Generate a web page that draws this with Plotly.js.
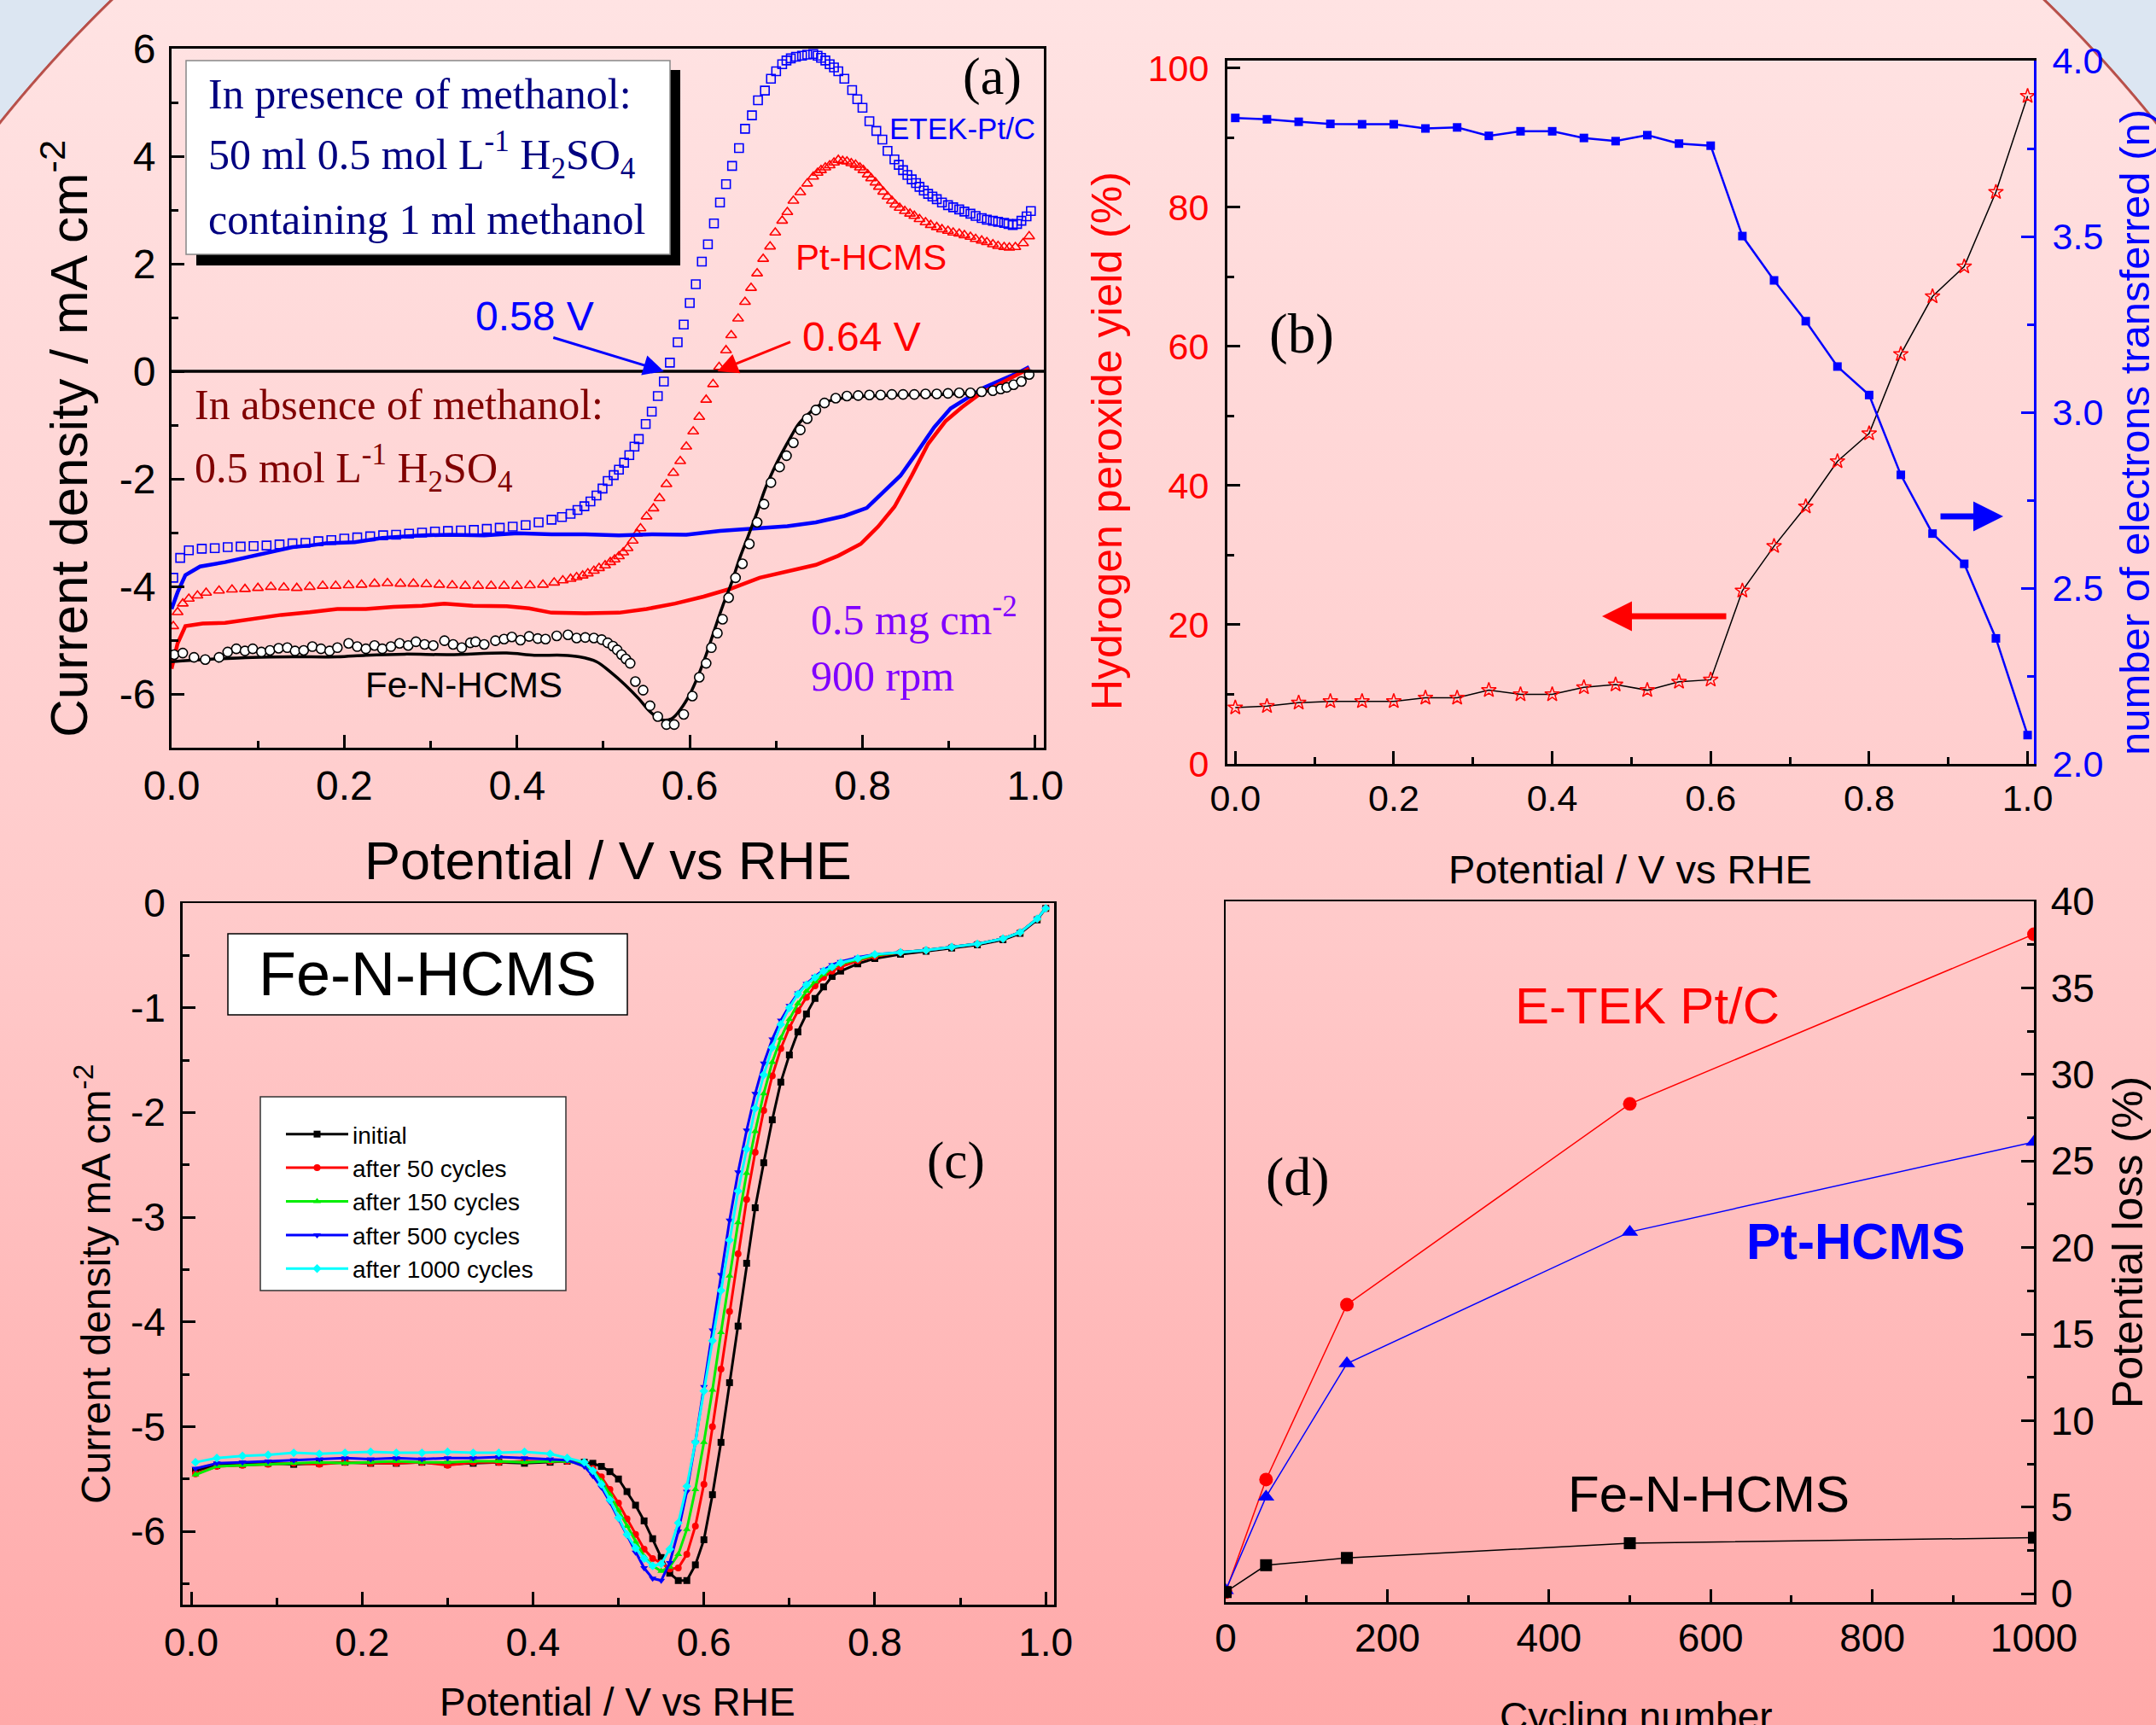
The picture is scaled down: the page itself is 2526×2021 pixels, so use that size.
<!DOCTYPE html>
<html>
<head>
<meta charset="utf-8">
<script src="https://cdn.plot.ly/plotly-3.0.1.min.js"></script>
<style>
html,body{margin:0;padding:0;}
body{width:2526px;height:2021px;overflow:hidden;
background:
 radial-gradient(ellipse 1609px 1576px at 1263px 1117px, rgba(0,0,0,0) 99.75%, #b8504a 99.82%, #b8504a 99.95%, #dce6f2 100%),
 linear-gradient(to bottom, #ffe3e3 0%, #ffc9c9 55%, #ffa9a9 100%);}
#chart{width:2526px;height:2021px;}
</style>
</head>
<body>
<div id="chart"></div>
<script>
// ---------------- Panel (a) data ----------------
const aV_etekM = [0.002,0.01,0.02,0.035,0.05,0.065,0.08,0.095,0.11,0.125,0.14,0.155,0.17,0.185,0.2,0.215,0.23,0.245,0.26,0.275,0.29,0.305,0.32,0.335,0.35,0.365,0.38,0.395,0.41,0.425,0.44,0.452,0.462,0.47,0.478,0.485,0.492,0.499,0.505,0.512,0.518,0.524,0.53,0.536,0.541,0.549,0.556,0.563,0.57,0.577,0.586,0.593,0.6,0.607,0.614,0.621,0.628,0.635,0.642,0.649,0.657,0.664,0.672,0.679,0.687,0.694,0.7,0.707,0.712,0.717,0.723,0.73,0.736,0.743,0.748,0.752,0.757,0.762,0.767,0.772,0.779,0.788,0.794,0.8,0.808,0.816,0.823,0.829,0.837,0.842,0.847,0.852,0.857,0.862,0.866,0.871,0.876,0.881,0.886,0.892,0.899,0.905,0.912,0.918,0.925,0.931,0.938,0.944,0.951,0.957,0.964,0.969,0.974,0.979,0.984,0.99,0.995];
const aJ_etekM = [-3.84,-3.47,-3.33,-3.30,-3.29,-3.27,-3.26,-3.25,-3.24,-3.22,-3.20,-3.19,-3.16,-3.14,-3.11,-3.09,-3.07,-3.05,-3.04,-3.02,-3.00,-2.98,-2.97,-2.96,-2.95,-2.93,-2.91,-2.89,-2.86,-2.81,-2.76,-2.71,-2.65,-2.58,-2.51,-2.42,-2.31,-2.18,-2.04,-1.93,-1.83,-1.70,-1.56,-1.40,-1.26,-0.98,-0.75,-0.46,-0.19,0.16,0.54,0.87,1.27,1.62,2.04,2.36,2.75,3.14,3.48,3.82,4.15,4.51,4.76,5.04,5.22,5.44,5.58,5.71,5.78,5.82,5.85,5.87,5.89,5.90,5.87,5.83,5.78,5.71,5.65,5.58,5.44,5.23,5.06,4.90,4.65,4.47,4.31,4.10,3.94,3.84,3.74,3.65,3.57,3.50,3.43,3.36,3.30,3.25,3.20,3.14,3.09,3.05,3.01,2.97,2.93,2.89,2.85,2.82,2.80,2.78,2.76,2.74,2.72,2.74,2.80,2.88,2.98];

const aV_ptM = [0.002,0.007,0.013,0.02,0.03,0.04,0.055,0.07,0.085,0.1,0.115,0.13,0.145,0.16,0.175,0.19,0.205,0.22,0.235,0.25,0.265,0.28,0.295,0.31,0.325,0.34,0.355,0.37,0.385,0.4,0.415,0.43,0.443,0.453,0.462,0.469,0.476,0.482,0.489,0.495,0.502,0.508,0.513,0.518,0.523,0.528,0.534,0.539,0.543,0.55,0.558,0.565,0.573,0.581,0.589,0.596,0.604,0.611,0.619,0.627,0.634,0.642,0.648,0.656,0.664,0.671,0.678,0.685,0.693,0.699,0.707,0.713,0.72,0.728,0.736,0.743,0.748,0.752,0.757,0.762,0.767,0.772,0.777,0.782,0.787,0.792,0.797,0.801,0.806,0.81,0.815,0.819,0.824,0.829,0.834,0.838,0.843,0.849,0.855,0.86,0.866,0.873,0.879,0.886,0.892,0.899,0.905,0.912,0.918,0.925,0.931,0.938,0.944,0.951,0.957,0.964,0.97,0.977,0.986,0.993];
const aJ_ptM = [-4.74,-4.48,-4.32,-4.23,-4.17,-4.12,-4.08,-4.06,-4.05,-4.03,-4.01,-4.02,-4.03,-4.01,-3.99,-3.99,-3.98,-3.97,-3.95,-3.94,-3.95,-3.95,-3.96,-3.97,-3.98,-3.99,-3.99,-3.99,-3.99,-3.99,-3.98,-3.97,-3.93,-3.89,-3.86,-3.83,-3.80,-3.76,-3.71,-3.66,-3.61,-3.55,-3.50,-3.44,-3.37,-3.29,-3.15,-3.02,-2.92,-2.70,-2.55,-2.36,-2.10,-1.89,-1.67,-1.40,-1.12,-0.85,-0.53,-0.24,0.08,0.39,0.67,0.98,1.29,1.55,1.82,2.09,2.32,2.58,2.80,2.96,3.17,3.33,3.49,3.62,3.69,3.74,3.79,3.83,3.88,3.93,3.91,3.90,3.87,3.84,3.79,3.74,3.66,3.59,3.51,3.43,3.34,3.25,3.17,3.10,3.04,2.98,2.93,2.89,2.83,2.77,2.72,2.68,2.64,2.61,2.58,2.56,2.53,2.50,2.46,2.43,2.40,2.36,2.33,2.31,2.30,2.31,2.38,2.51];

const aV_feM = [0.003,0.013,0.026,0.039,0.055,0.065,0.075,0.085,0.094,0.104,0.114,0.124,0.134,0.143,0.153,0.163,0.173,0.183,0.192,0.205,0.215,0.225,0.235,0.244,0.254,0.264,0.274,0.283,0.293,0.303,0.316,0.326,0.336,0.346,0.352,0.362,0.375,0.385,0.394,0.404,0.414,0.424,0.433,0.446,0.459,0.469,0.479,0.489,0.498,0.505,0.511,0.516,0.521,0.526,0.531,0.537,0.546,0.554,0.563,0.573,0.582,0.593,0.603,0.611,0.619,0.625,0.632,0.638,0.645,0.653,0.661,0.669,0.678,0.686,0.694,0.704,0.712,0.72,0.728,0.736,0.746,0.756,0.769,0.782,0.795,0.808,0.821,0.834,0.847,0.86,0.873,0.886,0.899,0.912,0.925,0.938,0.951,0.96,0.967,0.975,0.984,0.993];
const aJ_feM = [-5.27,-5.24,-5.32,-5.36,-5.32,-5.22,-5.16,-5.20,-5.16,-5.22,-5.19,-5.15,-5.14,-5.20,-5.19,-5.12,-5.16,-5.20,-5.14,-5.06,-5.12,-5.16,-5.10,-5.16,-5.12,-5.06,-5.10,-5.03,-5.08,-5.10,-5.01,-5.08,-5.14,-5.05,-5.03,-5.08,-5.01,-4.98,-4.94,-5.00,-4.93,-4.97,-4.98,-4.92,-4.90,-4.96,-4.95,-4.96,-4.99,-5.05,-5.11,-5.18,-5.27,-5.35,-5.43,-5.77,-5.93,-6.22,-6.42,-6.57,-6.57,-6.38,-6.04,-5.69,-5.43,-5.14,-4.87,-4.61,-4.21,-3.84,-3.58,-3.21,-2.81,-2.47,-2.07,-1.78,-1.57,-1.33,-1.09,-0.88,-0.72,-0.59,-0.50,-0.46,-0.45,-0.44,-0.44,-0.43,-0.43,-0.43,-0.42,-0.42,-0.41,-0.40,-0.40,-0.38,-0.36,-0.33,-0.30,-0.25,-0.19,-0.06];

const aV_etek = [0,0.007,0.016,0.033,0.062,0.094,0.114,0.14,0.16,0.179,0.212,0.244,0.27,0.29,0.322,0.362,0.401,0.44,0.479,0.518,0.557,0.596,0.635,0.674,0.713,0.746,0.779,0.805,0.824,0.844,0.863,0.883,0.902,0.922,0.941,0.961,0.98,0.993];
const aJ_etek = [-4.42,-4.11,-3.79,-3.63,-3.55,-3.44,-3.37,-3.27,-3.24,-3.20,-3.18,-3.10,-3.07,-3.05,-3.04,-3.05,-3.01,-3.03,-3.03,-3.05,-3.03,-3.04,-2.97,-2.92,-2.88,-2.81,-2.69,-2.54,-2.25,-1.94,-1.51,-1.04,-0.69,-0.48,-0.30,-0.16,-0.03,0.08];

const aV_pt = [0,0.007,0.016,0.036,0.062,0.094,0.127,0.16,0.192,0.225,0.257,0.29,0.316,0.349,0.388,0.414,0.44,0.479,0.518,0.55,0.583,0.616,0.648,0.681,0.713,0.746,0.772,0.798,0.818,0.837,0.857,0.876,0.896,0.915,0.935,0.954,0.974,0.993];
const aJ_pt = [-5.53,-5.06,-4.74,-4.69,-4.68,-4.61,-4.53,-4.48,-4.42,-4.42,-4.38,-4.36,-4.32,-4.36,-4.37,-4.41,-4.49,-4.50,-4.49,-4.42,-4.32,-4.19,-4.04,-3.84,-3.72,-3.60,-3.43,-3.21,-2.89,-2.52,-1.94,-1.35,-0.93,-0.67,-0.43,-0.27,-0.11,0.05];

const aV_fe = [0,0.016,0.049,0.094,0.14,0.192,0.225,0.27,0.322,0.388,0.42,0.453,0.472,0.492,0.508,0.525,0.541,0.554,0.567,0.579,0.59,0.6,0.609,0.619,0.629,0.638,0.648,0.658,0.668,0.678,0.687,0.697,0.707,0.717,0.726,0.739,0.752,0.772,0.798,0.844,0.896,0.935,0.961,0.98,0.993];
const aJ_fe = [-5.40,-5.38,-5.35,-5.32,-5.31,-5.31,-5.28,-5.26,-5.27,-5.24,-5.28,-5.28,-5.31,-5.40,-5.59,-5.83,-6.09,-6.33,-6.48,-6.46,-6.27,-6.01,-5.69,-5.27,-4.79,-4.37,-3.95,-3.47,-3.05,-2.62,-2.20,-1.83,-1.51,-1.22,-0.98,-0.77,-0.61,-0.51,-0.47,-0.44,-0.43,-0.39,-0.32,-0.22,-0.06];

const aYTicks = [-6,-4,-2,0,2,4,6];
const aYText = ['-6','-4','-2','0','2','4','6'];

// ---------------- Panel (b) data ----------------
const bV = [0,0.04,0.08,0.12,0.16,0.20,0.24,0.28,0.32,0.36,0.40,0.44,0.48,0.52,0.56,0.60,0.64,0.68,0.72,0.76,0.80,0.84,0.88,0.92,0.96,1.00];
const bH2O2 = [8.1,8.3,8.8,9.0,9.0,9.0,9.5,9.5,10.6,10.0,10.0,11.0,11.4,10.6,11.8,12.1,24.9,31.3,37.0,43.5,47.5,58.9,67.2,71.5,82.2,96.0];
const bN = [3.837,3.833,3.826,3.820,3.819,3.819,3.807,3.810,3.786,3.799,3.799,3.780,3.771,3.788,3.764,3.758,3.501,3.375,3.259,3.130,3.049,2.822,2.655,2.569,2.357,2.082];

// ---------------- Panel (c) data ----------------
const cV = [0.005,0.03,0.06,0.09,0.12,0.15,0.18,0.21,0.24,0.27,0.30,0.33,0.36,0.39,0.42,0.44,
 0.46,0.47,0.48,0.49,0.50,0.51,0.52,0.53,0.54,0.55,0.56,0.57,0.58,0.59,0.60,0.61,0.62,0.63,0.64,0.65,0.66,0.67,0.68,0.69,0.70,0.71,0.72,0.73,0.74,0.75,0.76,0.78,0.80,
 0.83,0.86,0.89,0.92,0.95,0.97,0.99,1.00];
const cInitial = [-5.42,-5.37,-5.36,-5.35,-5.36,-5.35,-5.34,-5.35,-5.35,-5.34,-5.36,-5.35,-5.34,-5.35,-5.34,-5.33,
 -5.34,-5.35,-5.38,-5.43,-5.50,-5.62,-5.75,-5.90,-6.07,-6.25,-6.40,-6.47,-6.47,-6.32,-6.08,-5.65,-5.15,-4.58,-4.04,-3.44,-2.91,-2.48,-2.07,-1.71,-1.45,-1.23,-1.06,-0.91,-0.80,-0.70,-0.65,-0.58,-0.53,
 -0.49,-0.46,-0.43,-0.40,-0.35,-0.29,-0.16,-0.05];
const c50 = [-5.45,-5.38,-5.37,-5.36,-5.35,-5.36,-5.34,-5.35,-5.35,-5.34,-5.37,-5.34,-5.34,-5.33,-5.33,-5.33,
 -5.35,-5.40,-5.48,-5.60,-5.73,-5.88,-6.03,-6.17,-6.26,-6.30,-6.36,-6.35,-6.22,-5.95,-5.55,-5.00,-4.45,-3.90,-3.35,-2.83,-2.38,-1.98,-1.65,-1.39,-1.19,-1.03,-0.90,-0.79,-0.71,-0.65,-0.61,-0.55,-0.51,
 -0.47,-0.45,-0.42,-0.39,-0.34,-0.28,-0.15,-0.05];
const c150 = [-5.46,-5.38,-5.37,-5.36,-5.35,-5.34,-5.35,-5.34,-5.33,-5.34,-5.34,-5.33,-5.33,-5.34,-5.33,-5.33,
 -5.36,-5.42,-5.52,-5.65,-5.80,-5.95,-6.10,-6.24,-6.33,-6.38,-6.34,-6.22,-5.98,-5.60,-5.15,-4.65,-4.10,-3.56,-3.05,-2.58,-2.18,-1.82,-1.52,-1.29,-1.11,-0.96,-0.84,-0.75,-0.68,-0.62,-0.58,-0.54,-0.50,
 -0.47,-0.45,-0.42,-0.39,-0.34,-0.28,-0.15,-0.05];
const c500 = [-5.40,-5.35,-5.34,-5.33,-5.32,-5.31,-5.30,-5.31,-5.30,-5.31,-5.30,-5.30,-5.29,-5.30,-5.31,-5.32,
 -5.38,-5.47,-5.58,-5.72,-5.88,-6.04,-6.20,-6.35,-6.45,-6.47,-6.30,-6.00,-5.62,-5.15,-4.62,-4.08,-3.55,-3.03,-2.57,-2.17,-1.82,-1.53,-1.30,-1.12,-0.98,-0.86,-0.77,-0.70,-0.64,-0.59,-0.56,-0.52,-0.49,
 -0.47,-0.45,-0.42,-0.39,-0.34,-0.28,-0.15,-0.05];
const c1000 = [-5.34,-5.30,-5.28,-5.27,-5.25,-5.26,-5.25,-5.24,-5.25,-5.25,-5.24,-5.25,-5.25,-5.24,-5.26,-5.30,
 -5.34,-5.42,-5.55,-5.70,-5.87,-6.03,-6.16,-6.26,-6.33,-6.31,-6.17,-5.92,-5.57,-5.15,-4.66,-4.18,-3.70,-3.22,-2.75,-2.35,-1.96,-1.64,-1.38,-1.16,-1.00,-0.87,-0.78,-0.71,-0.65,-0.61,-0.57,-0.53,-0.49,
 -0.47,-0.45,-0.42,-0.39,-0.34,-0.28,-0.15,-0.05];
const cNames = ['initial','after 50 cycles','after 150 cycles','after 500 cycles','after 1000 cycles'];
const cYTicks = [-6,-5,-4,-3,-2,-1,0];
const cYText = ['-6','-5','-4','-3','-2','-1','0'];

// ---------------- Panel (d) data ----------------
const dCycles = [0,50,150,500,1000];
const dEtek = [0.1,6.6,16.7,28.3,38.1];
const dPtHCMS = [0.2,5.6,13.3,20.9,26.1];
const dFeN = [0.1,1.65,2.07,2.92,3.24];

// ---------------- helpers (layout geometry) ----------------
const W = 2526, H = 2021;
const px = x => x / W;
const py = y => 1 - y / H;
const SANS = 'Liberation Sans, Arial, sans-serif';
const SERIF = 'Liberation Serif, Times New Roman, serif';

const traces = [];
// Panel a
traces.push({x:aV_etekM, y:aJ_etekM, xaxis:'x', yaxis:'y', mode:'markers', showlegend:false,
  marker:{symbol:'square-open', size:10, color:'#0000ff', line:{width:1.6}}});
traces.push({x:aV_ptM, y:aJ_ptM, xaxis:'x', yaxis:'y', mode:'markers', showlegend:false,
  marker:{symbol:'triangle-up-open', size:11, color:'#ff0000', line:{width:1.6}}});
traces.push({x:aV_etek, y:aJ_etek, xaxis:'x', yaxis:'y', mode:'lines', showlegend:false,
  line:{color:'#0000ff', width:4.5}});
traces.push({x:aV_pt, y:aJ_pt, xaxis:'x', yaxis:'y', mode:'lines', showlegend:false,
  line:{color:'#ff0000', width:4.5}});
traces.push({x:aV_fe, y:aJ_fe, xaxis:'x', yaxis:'y', mode:'lines', showlegend:false,
  line:{color:'#000000', width:3.5, shape:'spline'}});
traces.push({x:aV_feM, y:aJ_feM, xaxis:'x', yaxis:'y', mode:'markers', showlegend:false,
  marker:{symbol:'circle', size:11, color:'#ffffff', line:{width:1.6, color:'#000000'}}});
// Panel b
traces.push({x:bV, y:bH2O2, xaxis:'x2', yaxis:'y2', mode:'lines+markers', showlegend:false,
  line:{color:'#000000', width:1.5},
  marker:{symbol:'star-open', size:13, color:'#ff0000', line:{width:1.5}}});
traces.push({x:bV, y:bN, xaxis:'x2', yaxis:'y3', mode:'lines+markers', showlegend:false,
  line:{color:'#0000ff', width:2.5},
  marker:{symbol:'square', size:10, color:'#0000ff'}});
// Panel c
const cSeries = [cInitial, c50, c150, c500, c1000];
const cColors = ['#000000','#ff0000','#00ee00','#0000ff','#00ffff'];
const cSymbols = ['square','circle','triangle-up','triangle-down','diamond'];
for (let i = 0; i < 5; i++) {
  traces.push({x:cV, y:cSeries[i], xaxis:'x3', yaxis:'y4', mode:'lines+markers', name:cNames[i], showlegend:true,
    line:{color:cColors[i], width:3}, marker:{symbol:cSymbols[i], size:8, color:cColors[i]}});
}
// Panel d
traces.push({x:dCycles, y:dEtek, xaxis:'x4', yaxis:'y5', mode:'lines+markers', showlegend:false,
  line:{color:'#ff0000', width:1.5}, marker:{symbol:'circle', size:16, color:'#ff0000'}});
traces.push({x:dCycles, y:dPtHCMS, xaxis:'x4', yaxis:'y5', mode:'lines+markers', showlegend:false,
  line:{color:'#0000ff', width:1.5}, marker:{symbol:'triangle-up', size:17, color:'#0000ff'}});
traces.push({x:dCycles, y:dFeN, xaxis:'x4', yaxis:'y5', mode:'lines+markers', showlegend:false,
  line:{color:'#000000', width:1.5}, marker:{symbol:'square', size:14, color:'#000000'}});

function ax(o) {
  const base = {showline:true, linecolor:'#000', linewidth:3, ticks:'inside', ticklen:15, tickwidth:3,
    tickcolor:'#000', showgrid:false, zeroline:false, mirror:true, ticklabelstandoff:0,
    tickfont:{family:SANS, size:46, color:'#000'}};
  return Object.assign(base, o);
}
function minor(dt, color) {
  return {ticks:'inside', ticklen:8, tickwidth:3, tickcolor:color || '#000', dtick:dt, tickmode:'linear', tick0:0};
}

const layout = {
  width:W, height:H, margin:{l:0,r:0,t:0,b:0},
  paper_bgcolor:'rgba(0,0,0,0)', plot_bgcolor:'rgba(0,0,0,0)',
  font:{family:SANS},
  showlegend:true,
  legend:{x:px(330), y:py(1304), xanchor:'left', yanchor:'top', bgcolor:'rgba(0,0,0,0)',
    borderwidth:0, font:{family:SANS, size:28, color:'#000'}, itemwidth:73, tracegroupgap:0},
  // panel a
  xaxis: ax({domain:[px(201), px(1223)], anchor:'y', range:[0,1.01], dtick:0.2, tick0:0, tickformat:'.1f',
    minor:minor(0.1), tickfont:{family:SANS, size:48, color:'#000'}, ticklabelstandoff:0}),
  yaxis: ax({domain:[py(876), py(57)], anchor:'x', range:[-7,6], tickmode:'array', tickvals:aYTicks, ticktext:aYText,
    minor:minor(1), tickfont:{family:SANS, size:48, color:'#000'}, ticklabelstandoff:6}),
  // panel b
  xaxis2: ax({domain:[px(1438), px(2383)], anchor:'y2', range:[-0.01,1.008], dtick:0.2, tick0:0, tickformat:'.1f',
    minor:minor(0.1), tickfont:{family:SANS, size:43, color:'#000'}}),
  yaxis2: ax({domain:[py(895), py(71)], anchor:'x2', range:[0,101.1], dtick:20, tick0:0, mirror:false,
    minor:minor(10), tickfont:{family:SANS, size:43, color:'#ff0000'}, ticklabelstandoff:10}),
  yaxis3: ax({overlaying:'y2', side:'right', anchor:'x2', range:[2,4], dtick:0.5, tick0:2, tickformat:'.1f', mirror:false,
    linecolor:'#0000ff', tickcolor:'#0000ff', minor:minor(0.25,'#0000ff'),
    tickfont:{family:SANS, size:43, color:'#0000ff'}, ticklabelstandoff:10}),
  // panel c
  xaxis3: ax({domain:[px(213.5), px(1235)], anchor:'y4', range:[-0.0105,1.0098], dtick:0.2, tick0:0, tickformat:'.1f',
    minor:minor(0.1), linewidth:2.5, ticklabelstandoff:2}),
  yaxis4: ax({domain:[py(1880), py(1058)], anchor:'x3', range:[-6.7,0], tickmode:'array', tickvals:cYTicks, ticktext:cYText,
    minor:minor(0.5), linewidth:2.5, ticklabelstandoff:8}),
  // panel d
  xaxis4: ax({domain:[px(1436), px(2383)], anchor:'y5', range:[0,1000], dtick:200, tick0:0,
    minor:minor(100), linewidth:2.5, ticklabelstandoff:0}),
  yaxis5: ax({domain:[py(1877), py(1056)], anchor:'x4', side:'right', range:[-0.48,40], dtick:5, tick0:0,
    minor:minor(2.5), linewidth:2.5, ticklabelstandoff:8}),
  shapes:[
    // zero line in panel a
    {type:'line', xref:'x domain', x0:0, x1:1, yref:'y', y0:0, y1:0, line:{color:'#000', width:3.5}, layer:'above'},
    // shadow + white box with the methanol text, panel a
    {type:'rect', xref:'paper', yref:'paper', x0:px(230), x1:px(797), y0:py(311), y1:py(82), fillcolor:'#000', line:{width:0}},
    {type:'rect', xref:'paper', yref:'paper', x0:px(218), x1:px(785), y0:py(298), y1:py(71), fillcolor:'#fff', line:{color:'#888', width:1.5}},
    // white box panel c
    {type:'rect', xref:'paper', yref:'paper', x0:px(267), x1:px(735), y0:py(1189), y1:py(1094), fillcolor:'#fff', line:{color:'#000', width:1.5}},
    // legend frame panel c
    {type:'rect', xref:'paper', yref:'paper', x0:px(305), x1:px(663), y0:py(1512), y1:py(1285), fillcolor:'#fff', line:{color:'#333', width:1.5}}
  ],
  annotations:[]
};

function txt(t, x, y, size, color, family, extra) {
  return Object.assign({text:t, x:px(x), y:py(y), xref:'paper', yref:'paper', showarrow:false,
    xanchor:'center', yanchor:'middle', font:{family:family||SANS, size:size, color:color||'#000'}}, extra||{});
}
const A = layout.annotations;
// axis titles
A.push(txt('Current density / mA cm<sup>-2</sup>', 76, 514, 62, '#000', SANS, {textangle:-90}));
A.push(txt('Potential / V vs RHE', 712, 1008, 63));
A.push(txt('Hydrogen peroxide yield (%)', 1297, 517, 50, '#ff0000', SANS, {textangle:-90}));
A.push(txt('number of electrons transferred (n)', 2501, 507, 49, '#0000ff', SANS, {textangle:-90}));
A.push(txt('Potential / V vs RHE', 1910, 1018, 47));
A.push(txt('Current density mA cm<sup>-2</sup>', 109, 1505, 48, '#000', SANS, {textangle:-90}));
A.push(txt('Potential / V vs RHE', 724, 1994, 46));
A.push(txt('Potential loss (%)', 2493, 1456, 50, '#000', SANS, {textangle:-90}));
A.push(txt('Cycling number', 1917, 2011, 46));
// panel a texts
A.push(txt('In presence of methanol:', 242, 110, 50, '#000080', SERIF, {xanchor:'left'}));
A.push(txt('50 ml 0.5 mol L<sup>-1</sup> H<sub>2</sub>SO<sub>4</sub>', 242, 182, 50, '#000080', SERIF, {xanchor:'left'}));
A.push(txt('containing 1 ml methanol', 242, 257, 50, '#000080', SERIF, {xanchor:'left'}));
A.push(txt('In absence of methanol:', 226, 474, 50, '#800000', SERIF, {xanchor:'left'}));
A.push(txt('0.5 mol L<sup>-1</sup> H<sub>2</sub>SO<sub>4</sub>', 226, 548, 50, '#800000', SERIF, {xanchor:'left'}));
A.push(txt('0.5 mg cm<sup>-2</sup>', 948, 722, 50, '#8000ff', SERIF, {xanchor:'left'}));
A.push(txt('900 rpm', 948, 792, 50, '#8000ff', SERIF, {xanchor:'left'}));
A.push(txt('Fe-N-HCMS', 543, 802, 42));
A.push(txt('ETEK-Pt/C', 1127, 151, 35, '#0000ff'));
A.push(txt('Pt-HCMS', 1020, 302, 42, '#ff0000'));
A.push(txt('0.58 V', 626, 370, 48, '#0000ff'));
A.push(txt('0.64 V', 1009, 395, 48, '#ff0000'));
A.push(txt('(a)', 1162, 90, 62, '#000', SERIF));
A.push({x:0.570, y:0, xref:'x', yref:'y', ax:-131, ay:-40, axref:'pixel', ayref:'pixel', text:'', showarrow:true,
  arrowhead:2, arrowsize:1.6, arrowwidth:3, arrowcolor:'#0000ff'});
A.push({x:0.632, y:0, xref:'x', yref:'y', ax:87, ay:-35, axref:'pixel', ayref:'pixel', text:'', showarrow:true,
  arrowhead:2, arrowsize:1.6, arrowwidth:3, arrowcolor:'#ff0000'});
// panel b texts
A.push(txt('(b)', 1525, 391, 65, '#000', SERIF));
A.push({x:px(1877), y:py(722), xref:'paper', yref:'paper', ax:147, ay:0, axref:'pixel', ayref:'pixel', text:'',
  showarrow:true, arrowhead:2, arrowsize:1.0, arrowwidth:7, arrowcolor:'#ff0000'});
A.push({x:px(2347), y:py(605), xref:'paper', yref:'paper', ax:-75, ay:0, axref:'pixel', ayref:'pixel', text:'',
  showarrow:true, arrowhead:2, arrowsize:1.0, arrowwidth:7, arrowcolor:'#0000ff'});
// panel c texts
A.push(txt('Fe-N-HCMS', 501, 1141, 72));
A.push(txt('(c)', 1120, 1360, 61, '#000', SERIF));
// panel d texts
A.push(txt('E-TEK Pt/C', 1930, 1178, 60, '#ff0000'));
A.push(txt('<b>Pt-HCMS</b>', 2174, 1454, 60, '#0000ff'));
A.push(txt('Fe-N-HCMS', 2002, 1750, 60, '#000'));
A.push(txt('(d)', 1520, 1378, 64, '#000', SERIF));

Plotly.newPlot('chart', traces, layout, {displayModeBar:false, staticPlot:true});
</script>
</body>
</html>
